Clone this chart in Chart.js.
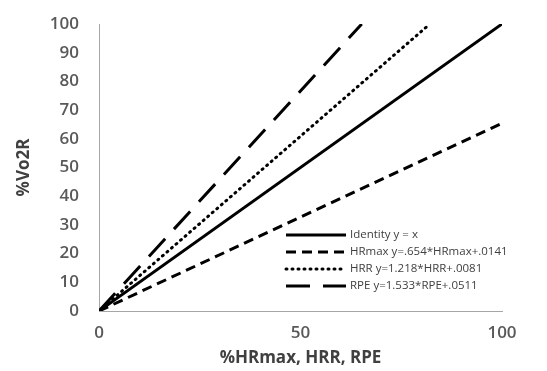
<!DOCTYPE html>
<html>
<head>
<meta charset="utf-8">
<script src="https://cdn.jsdelivr.net/npm/chart.js@4/dist/chart.umd.min.js"></script>
<style>
  html, body { margin: 0; padding: 0; background: #fff; }
  #wrap { width: 547px; height: 371px; }
</style>
</head>
<body>
<div id="wrap"><canvas id="grafico"></canvas></div>
<script>
// dados
const xTicks = [0, 50, 100];
const nomes = ['Identity y = x', 'HRmax y=.654*HRmax+.0141', 'HRR y=1.218*HRR+.0081', 'RPE y=1.533*RPE+.0511'];
const identityX = [0, 100];
const identityY = [0, 100];
const hrmaxX = [0, 100];
const hrmaxY = [0, 65.4];
const hrrX = [0, 82.1];
const hrrY = [0, 100];
const rpeX = [0, 65.2];
const rpeY = [0, 100];

const pontos = (xs, ys) => xs.map((x, i) => ({ x: x, y: ys[i] }));

const estilos = [
  { dash: [], cap: 'butt' },
  { dash: [10, 6], cap: 'butt' },
  { dash: [1, 5], cap: 'round' },
  { dash: [24, 13], cap: 'butt' }
];
const series = [[identityX, identityY], [hrmaxX, hrmaxY], [hrrX, hrrY], [rpeX, rpeY]];

const datasets = series.map((s, i) => ({
  label: nomes[i],
  data: pontos(s[0], s[1]),
  borderColor: '#000',
  backgroundColor: '#000',
  borderWidth: 3,
  borderDash: estilos[i].dash,
  borderCapStyle: estilos[i].cap,
  pointRadius: 0,
  fill: false,
  tension: 0
}));

// legenda desenhada dentro da área do gráfico
const legendaInterna = {
  id: 'legendaInterna',
  afterDraw(chart) {
    const ctx = chart.ctx;
    const area = chart.chartArea;
    const x0 = area.right - 216;
    const y0 = area.bottom - 76;
    ctx.save();
    ctx.font = '11.5px "Open Sans", sans-serif';
    ctx.fillStyle = '#404040';
    ctx.textBaseline = 'middle';
    chart.data.datasets.forEach((ds, i) => {
      const y = y0 + i * 17;
      ctx.beginPath();
      ctx.strokeStyle = '#000';
      ctx.lineWidth = 3;
      ctx.setLineDash(ds.borderDash);
      ctx.lineCap = ds.borderCapStyle;
      ctx.moveTo(x0, y);
      ctx.lineTo(x0 + 60, y);
      ctx.stroke();
      ctx.setLineDash([]);
      ctx.fillText(ds.label, x0 + 64, y);
    });
    ctx.restore();
  }
};

const fonteTick = { family: '"Open Sans", sans-serif', size: 17, weight: '600' };
const fonteTitulo = { family: '"Open Sans", sans-serif', size: 17, weight: 'bold' };

new Chart(document.getElementById('grafico'), {
  type: 'line',
  data: { datasets: datasets },
  options: {
    responsive: true,
    maintainAspectRatio: false,
    animation: false,
    layout: { padding: { top: 24, right: 45, left: 0, bottom: 0 } },
    plugins: { legend: { display: false }, tooltip: { enabled: false } },
    scales: {
      x: {
        type: 'linear',
        min: 0,
        max: 100,
        afterBuildTicks: (scale) => { scale.ticks = xTicks.map(v => ({ value: v })); },
        afterFit: (scale) => { scale.height = 60; },
        border: { color: '#a6a6a6', width: 1 },
        grid: { display: false, drawOnChartArea: false, drawTicks: true, tickLength: 7, color: '#a6a6a6' },
        ticks: { color: '#595959', font: fonteTick, padding: 5, maxRotation: 0 },
        title: { display: true, text: '%HRmax, HRR, RPE', color: '#404040', font: fonteTitulo, padding: { top: 0, bottom: 3 } }
      },
      y: {
        min: 0,
        max: 100,
        ticks: { stepSize: 10, color: '#595959', font: fonteTick, padding: 12 },
        afterFit: (scale) => { scale.width = 99; },
        border: { color: '#a6a6a6', width: 1 },
        grid: { display: false, drawOnChartArea: false, drawTicks: true, tickLength: 8, color: '#a6a6a6' },
        title: { display: true, text: '%Vo2R', color: '#404040', font: fonteTitulo, padding: { top: 14, bottom: 0 } }
      }
    }
  },
  plugins: [legendaInterna]
});
</script>
</body>
</html>
